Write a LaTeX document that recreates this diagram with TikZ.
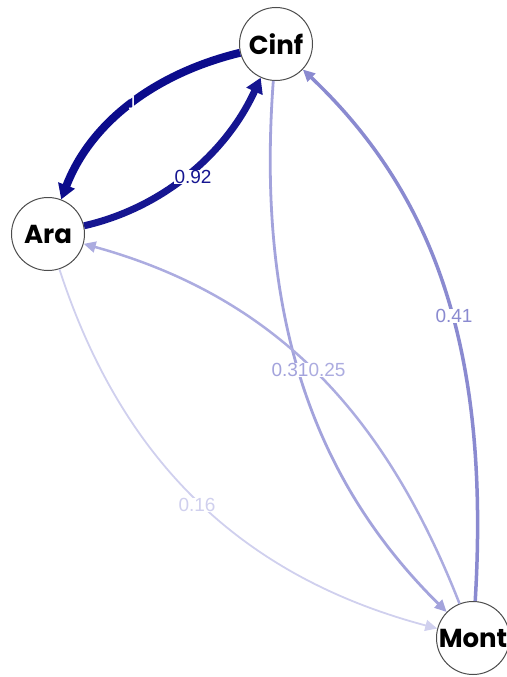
\documentclass[tikz,border=0pt]{standalone}
\usepackage{fontspec}
\setmainfont{Liberation Sans}
\newfontfamily\nodefont{Poppins}
\usetikzlibrary{arrows.meta}
\definecolor{cOne}{RGB}{12,12,140}
\definecolor{cNT}{RGB}{22,22,145}
\definecolor{cFO}{RGB}{138,138,208}
\definecolor{cTO}{RGB}{163,163,220}
\definecolor{cTF}{RGB}{172,172,224}
\definecolor{cOS}{RGB}{208,208,238}
\begin{document}
\begin{tikzpicture}[x=1pt,y=-1pt,
  vert/.style={circle, draw=black!70, fill=white, line width=1pt, minimum size=73pt, inner sep=0pt,
    font=\nodefont\bfseries\fontsize{26}{26}\selectfont},
  lbl/.style={inner sep=0.5pt, font=\fontsize{19}{19}\selectfont},
  thick edge/.style={line width=8pt, -{Triangle[length=15pt,width=17pt]}},
  thin edge/.style={-{Triangle[length=12pt,width=11pt]}}
]
\useasboundingbox (0,0) rectangle (506,677);
\node[vert] (cinf) at (276,44) {Cinf};
\node[vert] (ara) at (48,234) {Ara};
\node[vert] (mont) at (473,638) {Mont};

\draw[thick edge, cOne] (cinf) .. controls (153,74) and (90,124) .. (ara);
\draw[thick edge, cNT, line width=7pt] (ara) .. controls (162,208) and (226,154) .. (cinf);
\draw[thin edge, cTO, line width=2.8pt] (cinf) .. controls (257,302) and (305,472) .. (mont);
\draw[thin edge, cTF, line width=2.5pt] (mont) .. controls (387,419) and (280,298) .. (ara);
\draw[thin edge, cFO, line width=3.5pt] (mont) .. controls (490,353) and (436,196) .. (cinf);
\draw[thin edge, cOS, line width=1.8pt] (ara) .. controls (122,462) and (243,577) .. (mont);

\node[lbl, text=white] (l1) at (133,103) {1};
\node[lbl, text=cNT, fill=white] (l92) at (193,177) {0.92};
\node[lbl, text=cTO, fill=white] (l31) at (290,370) {0.31};
\node[lbl, text=cTF, fill=white] (l25) at (327,370) {0.25};
\node[lbl, text=cFO, fill=white] (l41) at (454,316) {0.41};
\node[lbl, text=cOS, fill=white] (l16) at (197,505) {0.16};
\end{tikzpicture}
\end{document}
